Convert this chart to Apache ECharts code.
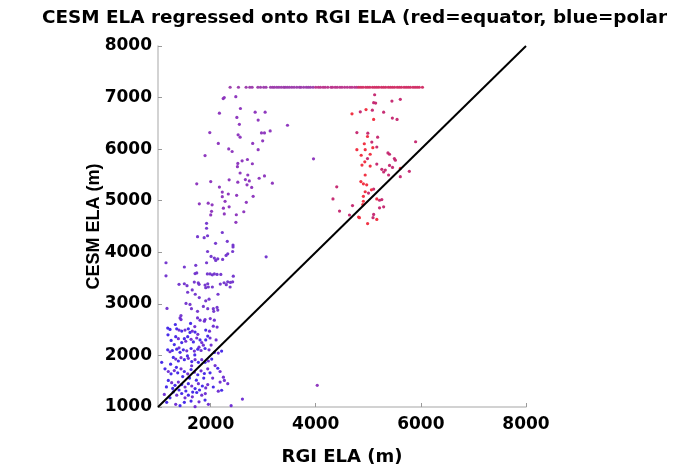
<!DOCTYPE html>
<html><head><meta charset="utf-8">
<script src="https://cdn.jsdelivr.net/npm/echarts@6/dist/echarts.min.js"></script>
<style>html,body{margin:0;padding:0;background:#fff}#c{width:679px;height:471px}</style>
</head><body><div id="c"></div>
<script>
const titleText = 'CESM ELA regressed onto RGI ELA (red=equator, blue=polar';
const xAxisName = 'RGI ELA (m)';
const yAxisName = 'CESM ELA (m)';
const xTickValues = [2000, 4000, 6000, 8000];
const yTickValues = [1000, 2000, 3000, 4000, 5000, 6000, 7000, 8000];
const oneToOneLine = [[1000, 1000], [8000, 8000]];

// Polar glaciers (blue), low ELA
const bluePts = [[1185,2530],[1228,2505],[1356,2516],[1451,2472],[1577,2516],[1609,2447],[1705,2453],[1908,2491],[1946,2376],[1908,2300],[1337,2363],[1501,2325],[1451,2249],[1565,2363],[1673,2262],[1800,2300],[1185,2109],[1272,2096],[1070,1866],[1356,2122],[1482,2109],[1629,2134],[1757,2122],[1895,2134],[2072,2058],[2210,2084],[1291,1962],[1387,1892],[1501,1918],[1642,1880],[1768,1866],[1895,1866],[2022,1930],[2137,1751],[1133,1740],[1248,1644],[1375,1663],[1501,1688],[1629,1727],[1757,1625],[1882,1650],[1990,1663],[1196,1516],[1324,1421],[1451,1434],[1577,1453],[1705,1357],[1844,1407],[2052,1388],[2210,1325],[1291,1293],[1451,1262],[1577,1229],[1737,1281],[1228,1178],[1165,1090],[1419,1025],[1629,1115],[1895,1134],[1501,1090],[1250,2290],[1310,2210],[1420,2060],[1560,1990],[1700,2010],[1240,1830],[1350,1770],[1470,1590],[1600,1560],[1730,1520],[1870,1560],[1160,1390],[1280,1360],[1400,1330],[1530,1310],[1660,1290],[1790,1330],[1190,2400],[1330,2600],[1620,2620]];

const violetPts = [[1419,2727],[1438,2696],[1752,2727],[1800,2683],[1895,2696],[1882,2664],[2072,2683],[2052,2568],[2124,2549],[1400,2491],[1514,2491],[1653,2472],[1757,2409],[1990,2338],[2105,2300],[1387,2325],[1528,2275],[1629,2313],[1737,2338],[1832,2249],[1863,2199],[1228,2071],[1400,2147],[1547,2090],[1692,2084],[1819,2096],[1971,2109],[2147,2046],[1337,1930],[1438,1956],[1577,1943],[1705,1918],[1832,1918],[1958,1892],[2086,1803],[2181,1688],[2244,1579],[2181,1484],[1196,1688],[1310,1707],[1438,1740],[1565,1644],[1692,1675],[1819,1702],[1946,1740],[1260,1472],[1387,1484],[1514,1388],[1642,1407],[1768,1453],[1908,1369],[1946,1434],[2147,1306],[2263,1516],[2327,1453],[1356,1229],[1514,1178],[1653,1197],[1832,1229],[1958,1052],[1120,1243],[1337,1052],[1705,1006],[2391,1025],[2606,1153],[1700,2560],[1980,2470],[2010,2200],[1780,2160],[1640,1800],[2040,1560],[1900,1260],[1780,1100]];

const indigoPts = [[1924,4562],[1924,4466],[2223,4384],[1752,4302],[1878,4283],[1943,4321],[2318,4212],[2095,4174],[2427,4141],[2427,4103],[1943,4015],[2420,4015],[2010,3920],[2072,3887],[2098,3843],[2137,3874],[2229,3862],[2295,3939],[2327,3970],[1152,3797],[1152,3543],[1501,3715],[1718,3748],[1924,3797],[3057,3912],[1705,3587],[1737,3600],[1939,3581],[1990,3581],[2033,3563],[2072,3581],[2124,3570],[2195,3570],[2432,3537],[1400,3378],[1501,3390],[1552,3352],[1690,3422],[1766,3409],[1781,3378],[1895,3365],[1946,3390],[1908,3314],[2034,3327],[1958,3327],[2185,3384],[2257,3409],[2299,3371],[2326,3428],[2378,3416],[2420,3428],[2372,3327],[1651,3270],[1709,3186],[1564,3225],[2141,3186],[1785,3122],[1908,3059],[1971,3090],[1533,3008],[1609,2989],[1171,2912],[1863,2950],[1946,2906],[2052,2906],[2124,2931],[2060,2855],[2137,2880],[1437,2772],[1636,2906],[1752,2855],[1994,2714]];

const purplePts = [[2240,6980],[2260,7000],[2480,7017],[2568,6788],[2168,6698],[2848,6717],[3038,6717],[2500,6615],[2905,6564],[2548,6482],[3463,6463],[1985,6321],[2524,6277],[2562,6233],[2968,6315],[3025,6315],[3134,6353],[2147,6111],[2801,6111],[2991,6162],[2345,6004],[2410,5954],[2905,5990],[1895,5876],[2600,5774],[2701,5799],[2518,5723],[2511,5660],[2795,5717],[2562,5537],[2708,5499],[2662,5410],[2924,5436],[3025,5480],[1737,5328],[2003,5372],[2353,5405],[2518,5359],[2737,5384],[2693,5308],[2782,5258],[3176,5340],[2168,5264],[2223,5168],[2223,5078],[2337,5130],[2496,5105],[2810,5085],[2276,4988],[2680,4969],[1786,4939],[1955,4952],[2029,4920],[2244,4856],[2353,4881],[2019,4794],[2003,4724],[2261,4743],[2490,4728],[2632,4786],[2482,4581],[3958,5813],[4029,1421]];

// Capped CESM values along the top row
const capRowPurple = [[2372,7200],[2530,7200],[2676,7200],[2745,7200],[2790,7200],[2900,7200],[2950,7200],[3010,7200],[3055,7200],[3140,7200],[3180,7200],[3215,7200],[3260,7200],[3300,7200],[3345,7200],[3390,7200],[3420,7200],[3460,7200],[3500,7200],[3545,7200],[3590,7200],[3640,7200],[3690,7200],[3720,7200],[3770,7200],[3820,7200],[3860,7200],[3900,7200],[3950,7200]];
const capRowMagenta = [[4000,7200],[4050,7200],[4090,7200],[4140,7200],[4180,7200],[4230,7200],[4290,7200],[4320,7200],[4370,7200],[4410,7200],[4460,7200],[4500,7200],[4550,7200],[4600,7200],[4650,7200],[4690,7200],[4740,7200],[4780,7200]];
const capRowRed = [[4820,7200],[4860,7200],[4900,7200],[4950,7200],[4990,7200],[5030,7200],[5080,7200],[5120,7200],[5160,7200],[5200,7200],[5250,7200],[5290,7200],[5330,7200],[5380,7200],[5420,7200],[5460,7200],[5500,7200],[5550,7200],[5590,7200],[5630,7200],[5680,7200],[5720,7200],[5760,7200],[5800,7200],[5850,7200],[5890,7200],[5930,7200],[5970,7200],[6030,7200]];

// Equatorial glaciers (red), high ELA
const magentaPts = [[5121,7055],[5102,6902],[5140,6894],[5450,6933],[5609,6966],[5077,6755],[5292,6717],[4848,6723],[5458,6602],[5547,6577],[4783,6321],[4991,6309],[5178,6233],[5900,6143],[5067,6137],[5162,6042],[5374,5927],[5404,5901],[5496,5818],[5515,5786],[4985,5818],[5162,5710],[5257,5608],[5324,5595],[5292,5557],[5404,5685],[5461,5646],[5386,5499],[5781,5570],[5609,5467],[4400,5270],[5102,5226],[5004,5149],[4328,5034],[5214,5009],[5257,5022],[4700,4906],[5214,4862],[5292,4881],[4453,4799],[5102,4734],[5090,4671],[4642,4723]];
const redPts = [[4957,6767],[4690,6685],[5102,6577],[4985,6245],[4924,6105],[5086,6029],[4783,5990],[4941,5990],[5036,5901],[4865,5882],[4934,5755],[4880,5691],[5036,5672],[4941,5499],[5609,5627],[4859,5372],[4907,5327],[4970,5308],[5060,5212],[4941,5174],[4907,5086],[5162,5034],[4907,4990],[4895,4925],[4831,4671],[5162,4638],[4987,4556],[4815,4684]];

const FONT = 'DejaVu Sans';
const chart = echarts.init(document.getElementById('c'), null, {renderer: 'canvas'});

function sc(data, color) {
  return {type: 'scatter', data: data, symbolSize: 3.2, itemStyle: {color: color, opacity: 0.95}, silent: true, z: 2};
}

chart.setOption({
  animation: false,
  backgroundColor: '#ffffff',
  title: {
    text: titleText, left: 37, top: 4,
    textStyle: {fontFamily: FONT, fontWeight: 'bold', fontSize: 18.4, color: '#000'}
  },
  grid: {left: 158, right: 153, top: 46, bottom: 59, containLabel: false},
  xAxis: {
    type: 'value', min: 1000, max: 8000,
    name: xAxisName, nameLocation: 'middle', nameGap: 41,
    nameTextStyle: {fontFamily: FONT, fontWeight: 'bold', fontSize: 18, color: '#000'},
    axisLine: {show: true, lineStyle: {color: '#c4c4c4', width: 1.5}},
    axisTick: {show: true, inside: true, length: 4, customValues: xTickValues, lineStyle: {color: '#9a9a9a'}},
    axisLabel: {customValues: xTickValues, margin: 9, formatter: v => String(v), fontFamily: FONT, fontWeight: 'bold', fontSize: 17, color: '#000'},
    splitLine: {show: false}
  },
  yAxis: {
    type: 'value', min: 1000, max: 8000,
    name: yAxisName, nameLocation: 'middle', nameGap: 55, nameRotate: 90, nameMoveOverlap: false,
    nameTextStyle: {fontFamily: 'Liberation Sans', fontWeight: 'bold', fontSize: 18, color: '#000'},
    axisLine: {show: true, lineStyle: {color: '#c4c4c4', width: 1.5}},
    axisTick: {show: true, inside: true, length: 4, customValues: yTickValues, lineStyle: {color: '#9a9a9a'}},
    axisLabel: {customValues: yTickValues, margin: 6, formatter: v => String(v), fontFamily: FONT, fontWeight: 'bold', fontSize: 17, color: '#000'},
    splitLine: {show: false}
  },
  series: [
    sc(bluePts, '#3f22e8'),
    sc(violetPts, '#6a28d2'),
    sc(indigoPts, '#7030cc'),
    sc(purplePts, '#8a2fbc'),
    sc(capRowPurple, '#9a38aa'),
    sc(capRowMagenta, '#b8308a'),
    sc(capRowRed, '#d02a62'),
    sc(magentaPts, '#c4246e'),
    sc(redPts, '#f0283a'),
    {type: 'line', data: oneToOneLine, symbol: 'none', silent: true, z: 3,
     lineStyle: {color: '#000', width: 2}}
  ]
});
</script></body></html>
